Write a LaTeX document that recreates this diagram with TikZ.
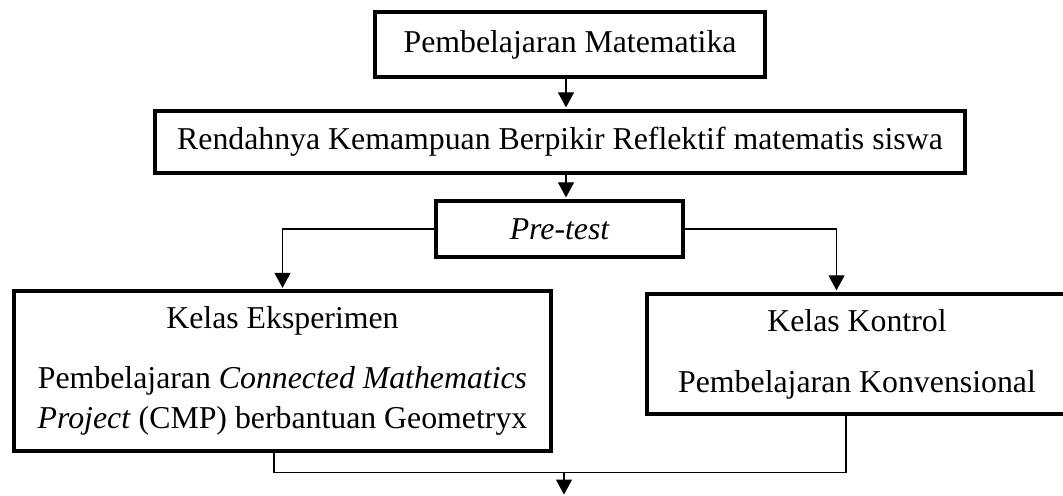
\documentclass[tikz,border=0pt]{standalone}
\usepackage{fontspec}
\setmainfont{Liberation Serif}
\usetikzlibrary{arrows.meta}
\begin{document}
\begin{tikzpicture}[x=0.5pt,y=-0.5pt,
  boxnode/.style={draw=black,line width=1.8pt,inner sep=0pt,align=center,
    font=\fontsize{15.9pt}{20pt}\selectfont},
  link/.style={draw=black,line width=0.6pt},
  arr/.style={link,-{Triangle[width=8pt,length=7.5pt]},shorten >=0.8pt}]
\useasboundingbox (0,0) rectangle (1063,495);
\node[boxnode,minimum width=195pt,minimum height=32.75pt] (top) at (570,44.5) {Pembelajaran Matematika};
\node[boxnode,minimum width=405pt,minimum height=31.25pt] (box2) at (560,142) {Rendahnya Kemampuan Berpikir Reflektif matematis siswa};
\node[boxnode,minimum width=123.75pt,minimum height=28.25pt] (pre) at (559.5,229) {\itshape Pre-test};
\node[boxnode,minimum width=268.75pt,minimum height=79.75pt] (eks) at (282.5,371) {Kelas Eksperimen\\[10pt]Pembelajaran \textit{Connected Mathematics}\\\textit{Project} (CMP) berbantuan Geometryx};
\node[boxnode,minimum width=210.25pt,minimum height=60.25pt] (kon) at (857,354) {Kelas Kontrol\\[10.5pt]Pembelajaran Konvensional};
\coordinate (a1) at (566,0);
\coordinate (l1) at (282.5,0);
\coordinate (r1) at (836.5,0);
\coordinate (b1) at (274,0);
\coordinate (b2) at (846,0);
\coordinate (jn) at (564,472.5);
\coordinate (fin) at (564,494.5);
\draw[arr] (top.south -| a1) -- (box2.north -| a1);
\draw[arr] (box2.south -| a1) -- (pre.north -| a1);
\draw[arr] (pre.west) -| (eks.north -| l1);
\draw[arr] (pre.east) -| (kon.north -| r1);
\draw[link] (eks.south -| b1) |- (jn) -| (kon.south -| b2);
\draw[arr,shorten >=0pt] (jn) -- (fin);
\end{tikzpicture}
\end{document}
